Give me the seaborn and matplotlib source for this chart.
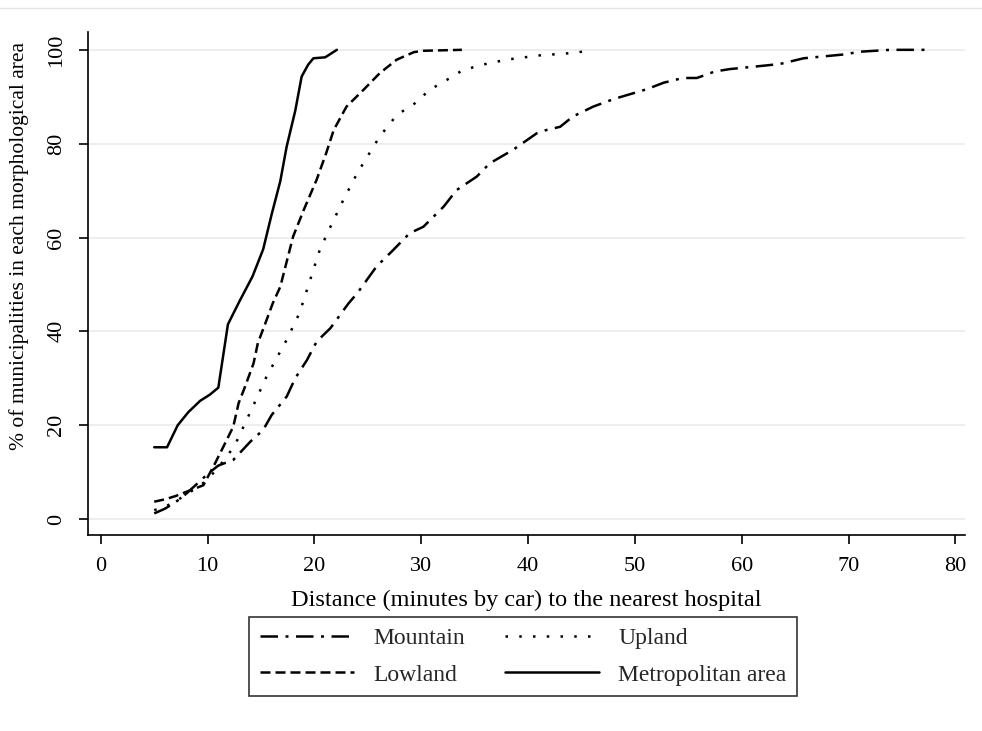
import numpy as np
import pandas as pd
import matplotlib
matplotlib.use("Agg")
import matplotlib.pyplot as plt
from matplotlib.lines import Line2D
import seaborn as sns

# ---- data ----
metro_x = [5, 6.2, 7.2, 8.2, 9.3, 10.2, 11, 11.9, 13, 14.2, 15.2, 16, 16.8, 17.4, 18.2, 18.8, 19.4, 19.9, 21, 22.1]
metro_y = [15.3, 15.3, 20, 22.8, 25.2, 26.5, 28, 41.5, 46.5, 51.7, 57.5, 65, 72, 79.4, 87, 94.3, 96.8, 98.2, 98.4, 100]

low_x = [5, 6, 7, 8, 9.6, 10.7, 11.6, 12.4, 12.9, 13.5, 14.3, 14.7, 15.4, 16.1, 16.8, 18, 19, 20.2, 21.1, 21.8, 23, 24.6, 26.1, 27.7, 29.3, 30.2, 33.8]
low_y = [3.7, 4.2, 4.9, 5.8, 7.2, 11.9, 16, 19.7, 24.7, 28.2, 33.2, 37.5, 41.7, 46, 49.5, 60.2, 65.9, 72.3, 78, 82.9, 87.9, 91.5, 95, 97.9, 99.5, 99.8, 100]

up_x = [5, 6, 7, 8, 9.5, 10.8, 12.5, 14.3, 15.5, 17.4, 18.6, 19.6, 20.5, 21.5, 22.7, 24, 26.1, 27.7, 29.4, 30.8, 32.4, 33.9, 36.4, 38.3, 41, 44.6, 45.8]
up_y = [1.9, 2.6, 3.8, 5.2, 7.5, 10.4, 15.5, 24.3, 30.3, 38.2, 43.9, 51, 57.4, 62.3, 68, 73.7, 81.5, 86.1, 88.6, 91.5, 93.6, 95.7, 97.2, 98, 98.8, 99.4, 100]

mtn_x = [5, 6, 7, 8, 9, 10, 11, 12.4, 14, 15.2, 16, 17.4, 18.2, 19.3, 20.2, 21.5, 23.2, 24, 25.8, 27.4, 28.9, 30.2, 32.1, 33.3, 35.2, 36.4,
         38.6, 40.8, 41.7, 43, 44.2, 46.1, 48, 51.1, 52.7, 54.5, 55.8, 57.5, 58.9, 62.4, 63.6, 65.8, 69.5, 71.1, 73.9, 77.5]
mtn_y = [1.2, 2.2, 3.6, 5.4, 7.5, 9.6, 11.4, 12.6, 16.5, 19, 22.2, 26.1, 30, 33.9, 37.8, 40.7, 46, 48.1, 53.8, 57.4, 60.9, 62.3, 66.6, 70.1, 73, 75.8,
         78.7, 82.2, 82.9, 83.6, 85.8, 87.9, 89.5, 91.6, 93, 94, 94, 95.4, 95.9, 96.7, 97, 98.2, 99, 99.6, 100, 100]

labels = ["Mountain", "Lowland", "Upland", "Metropolitan area"]
x_ticks = [0, 10, 20, 30, 40, 50, 60, 70, 80]
y_ticks = [0, 20, 40, 60, 80, 100]

df = pd.concat([
    pd.DataFrame({"x": mtn_x, "y": mtn_y, "area": labels[0]}),
    pd.DataFrame({"x": low_x, "y": low_y, "area": labels[1]}),
    pd.DataFrame({"x": up_x, "y": up_y, "area": labels[2]}),
    pd.DataFrame({"x": metro_x, "y": metro_y, "area": labels[3]}),
], ignore_index=True)

sns.set_theme(style="white")
plt.rcParams["font.family"] = ["Liberation Serif", "DejaVu Serif"]

fig = plt.figure(figsize=(9.82, 7.31), dpi=100)
ax = fig.add_axes([88 / 982, 1 - 535 / 731, (965 - 88) / 982, (535 - 32) / 731])

# faint frame line at the very top of the reference image
fig.add_artist(Line2D([0, 1], [1 - 8 / 731, 1 - 8 / 731], transform=fig.transFigure,
                      color="#e6e6e6", linewidth=1.0))

dashes = {
    labels[0]: (7, 3, 1.2, 3),
    labels[1]: (4, 2),
    labels[2]: (1, 4.5),
    labels[3]: "",
}
sns.lineplot(data=df, x="x", y="y", style="area", dashes=dashes, color="black",
             estimator=None, sort=False, linewidth=1.8, ax=ax, legend=True)

ax.set_xlim(-1.2, 80.9)
ax.set_ylim(-3.4, 103.8)
ax.set_xticks(x_ticks)
ax.set_yticks(y_ticks)
ax.yaxis.grid(True, color="#ebebeb", linewidth=1.2)
ax.xaxis.grid(False)
for s in ["top", "right"]:
    ax.spines[s].set_visible(False)
for s in ["left", "bottom"]:
    ax.spines[s].set_color("black")
    ax.spines[s].set_linewidth(1.2)
ax.tick_params(axis="both", which="major", direction="out", length=6.5, width=1.2,
               color="black", labelsize=16, labelcolor="black", bottom=True, left=True)
ax.tick_params(axis="x", pad=9)
ax.tick_params(axis="y", pad=9)
for t in ax.get_yticklabels():
    t.set_rotation(90)
    t.set_va("center")
ax.set_xlabel("Distance (minutes by car) to the nearest hospital", fontsize=17.5, color="black", labelpad=10)
ax.set_ylabel("% of municipalities in each morphological area", fontsize=15.5, color="black")
ax.yaxis.set_label_coords((29 - 88) / 877, (535 - 246) / 503)

handles, labs = ax.get_legend_handles_labels()
ax.get_legend().remove()
hmap = dict(zip(labs, handles))
order = [labels[0], labels[1], labels[2], labels[3]]
leg = fig.legend([hmap[l] for l in order], order, ncol=2, loc="center",
                 bbox_to_anchor=((243 + 803) / 2 / 982, 1 - (616 + 697) / 2 / 731),
                 fontsize=17, frameon=True, fancybox=False, edgecolor="black",
                 handlelength=4.0, columnspacing=1.7, handletextpad=0.8,
                 labelspacing=0.65, borderpad=0.45)
leg.get_frame().set_linewidth(1.2)
for h in leg.legend_handles:
    h.set_color("black")
    h.set_linewidth(1.8)

fig.savefig("out.png", dpi=100, facecolor="white")
